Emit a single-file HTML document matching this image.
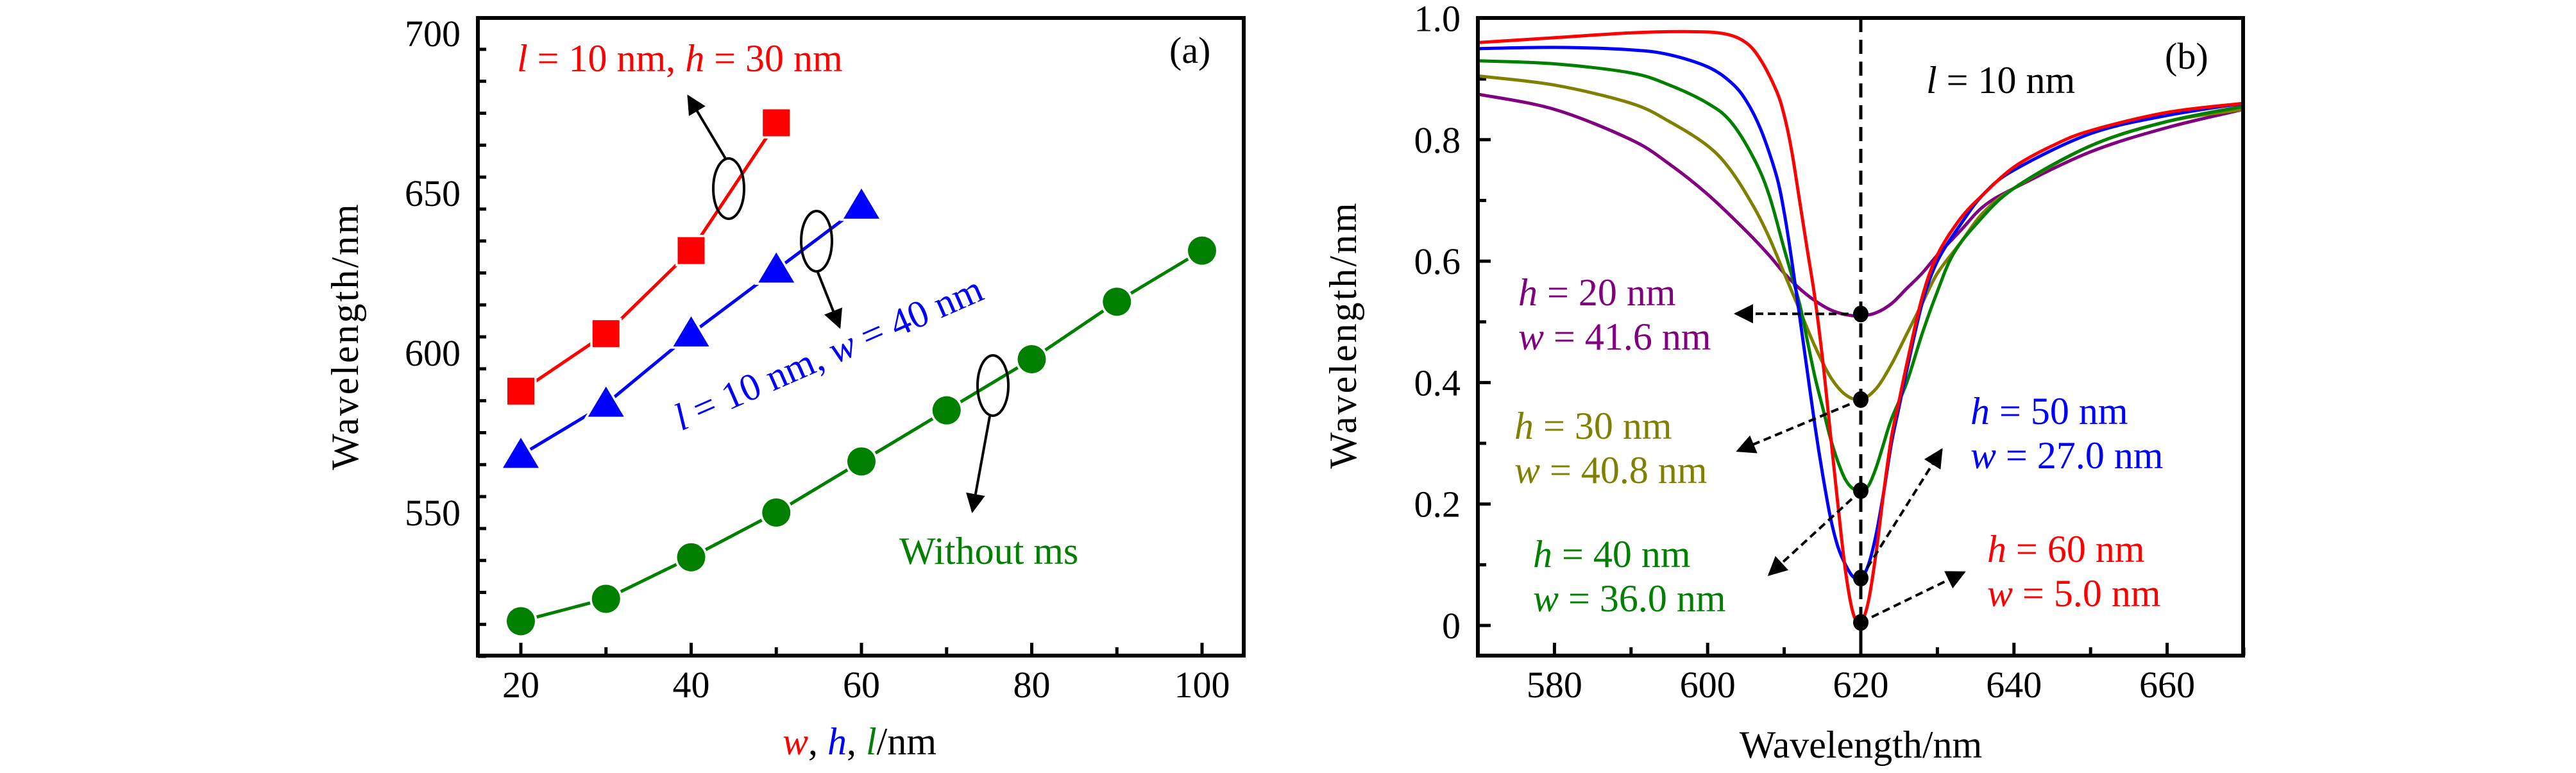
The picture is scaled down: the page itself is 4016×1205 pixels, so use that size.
<!DOCTYPE html>
<html><head><meta charset="utf-8"><style>
html,body{margin:0;padding:0;background:#fff;}
svg{display:block;}
svg text{font-family:"Liberation Serif","DejaVu Serif",serif;}
</style></head><body>
<svg id="fig" width="4016" height="1205" viewBox="0 0 4016 1205" xmlns="http://www.w3.org/2000/svg" font-family="Liberation Serif, DejaVu Serif, serif">
<g id="pa"></g>
<g id="pb"></g>
</svg>
<script>
// ---------- Panel (a) data ----------
const aRedX = [20, 30, 40, 50];
const aRedY = [588, 606, 632, 672];
const aBlueX = [20, 30, 40, 50, 60];
const aBlueY = [568, 584, 606, 626, 646];
const aGreenX = [20, 30, 40, 50, 60, 70, 80, 90, 100];
const aGreenY = [516, 523, 536, 550, 566, 582, 598, 616, 632];
const aXTicks = [20, 40, 60, 80, 100];
const aYTicks = [550, 600, 650, 700];
// ---------- Panel (b) data ----------
const bRedX = [570,580,590,597,602,605,607,609,610,611,612,613,614,615,616,617,618,619,620,621,622,623,624,625,626,628,630,633,636,640,645,650,660,670];
const bRedY = [0.96,0.968,0.976,0.978,0.975,0.96,0.93,0.88,0.84,0.78,0.70,0.62,0.54,0.44,0.32,0.20,0.09,0.02,0.005,0.04,0.12,0.22,0.31,0.37,0.43,0.54,0.61,0.67,0.71,0.755,0.79,0.815,0.845,0.86];
const bBlueX = [570,580,590,595,600,603,605,607,609,610,611,612,613,614,615,616,617,618,619,620,621,622,623,624,625,626,628,630,633,636,640,650,660,670];
const bBlueY = [0.95,0.952,0.948,0.94,0.92,0.895,0.865,0.815,0.74,0.68,0.6,0.51,0.42,0.33,0.25,0.18,0.13,0.10,0.08,0.078,0.10,0.15,0.22,0.30,0.36,0.42,0.53,0.60,0.66,0.71,0.75,0.81,0.84,0.86];
const bGreenX = [570,580,590,595,600,603,606,608,610,612,613,614,615,616,617,618,619,620,621,622,623,624,626,628,630,632,635,640,650,660,670];
const bGreenY = [0.93,0.925,0.91,0.89,0.86,0.83,0.77,0.71,0.62,0.53,0.47,0.41,0.36,0.31,0.27,0.24,0.225,0.222,0.23,0.26,0.30,0.34,0.40,0.48,0.55,0.61,0.66,0.72,0.79,0.83,0.855];
const bOliveX = [570,580,590,595,600,603,606,608,610,612,614,616,618,620,622,624,626,628,630,633,636,640,650,660,670];
const bOliveY = [0.905,0.89,0.86,0.83,0.79,0.75,0.69,0.64,0.58,0.52,0.46,0.41,0.38,0.372,0.39,0.43,0.48,0.53,0.58,0.63,0.68,0.72,0.79,0.83,0.85];
const bPurpleX = [570,580,590,595,600,605,608,610,612,614,616,618,620,622,624,626,628,630,633,636,640,650,660,670];
const bPurpleY = [0.875,0.85,0.80,0.76,0.71,0.65,0.61,0.58,0.555,0.535,0.52,0.512,0.51,0.515,0.53,0.555,0.58,0.61,0.65,0.69,0.72,0.78,0.82,0.85];
const bDotX = [620, 620, 620, 620, 620];
const bDotY = [0.513, 0.372, 0.222, 0.078, 0.005];
const bXTicks = [580, 600, 620, 640, 660];
const bYTicks = [0, 0.2, 0.4, 0.6, 0.8, 1.0];
const bYTickLabels = ["0", "0.2", "0.4", "0.6", "0.8", "1.0"];

const NS = "http://www.w3.org/2000/svg";
const FONT = "Liberation Serif, DejaVu Serif, serif";
function mk(parent, tag, attrs, text) {
  const e = document.createElementNS(NS, tag);
  for (const k in attrs) e.setAttribute(k, attrs[k]);
  if (tag === "text") e.setAttribute("font-family", FONT);
  if (text !== undefined) e.textContent = text;
  parent.appendChild(e);
  return e;
}
function smoothPath(pts) {
  let d = "M" + pts[0][0].toFixed(1) + "," + pts[0][1].toFixed(1);
  for (let i = 0; i < pts.length - 1; i++) {
    const p0 = pts[Math.max(0, i - 1)], p1 = pts[i], p2 = pts[i + 1], p3 = pts[Math.min(pts.length - 1, i + 2)];
    const c1x = p1[0] + (p2[0] - p0[0]) / 6, c1y = p1[1] + (p2[1] - p0[1]) / 6;
    const c2x = p2[0] - (p3[0] - p1[0]) / 6, c2y = p2[1] - (p3[1] - p1[1]) / 6;
    d += " C" + c1x.toFixed(1) + "," + c1y.toFixed(1) + " " + c2x.toFixed(1) + "," + c2y.toFixed(1) + " " + p2[0].toFixed(1) + "," + p2[1].toFixed(1);
  }
  return d;
}
const defs = mk(document.getElementById("fig"), "defs", {});
const mkr = mk(defs, "marker", {id: "ah", markerWidth: "34", markerHeight: "30", refX: "9", refY: "5", orient: "auto", markerUnits: "userSpaceOnUse", viewBox: "0 0 10 10"});
mk(mkr, "path", {d: "M0,0 L10,5 L0,10 z", fill: "#000"});

// ================= Panel A =================
const pa = document.getElementById("pa");
const aL = 745, aR = 1939, aT = 28, aB = 1022;
const ax = v => 812 + (v - 20) * 13.275;
const ay = v => 52 + (700 - v) * 4.98;

for (let v = 505; v <= 700; v += 10) {
  const major = v % 50 === 0;
  const t = mk(pa, "line", {x1: aL, x2: aL + (major ? 20 : 13), y1: ay(v), y2: ay(v), stroke: "#000", "stroke-width": 5});
  
  
}
for (let v = 20; v <= 100; v += 10) {
  const major = v % 20 === 0;
  const t = mk(pa, "line", {x1: ax(v), x2: ax(v), y1: aB, y2: aB - (major ? 20 : 13), stroke: "#000", "stroke-width": 5});
  
  
}
aYTicks.forEach(v => {
  const t = mk(pa, "text", {x: 718, y: ay(v) + 20, "text-anchor": "end", "font-size": 58}, String(v));
  
  
});
aXTicks.forEach(v => {
  const t = mk(pa, "text", {x: ax(v), y: 1087, "text-anchor": "middle", "font-size": 58}, String(v));
  
  
});
function aSeries(xs, ys, color, kind, name) {
  const g = mk(pa, "g", {});
  
  
  const pts = xs.map((x, i) => ax(x) + "," + ay(ys[i])).join(" ");
  mk(g, "polyline", {points: pts, fill: "none", stroke: color, "stroke-width": 5});
  xs.forEach((x, i) => {
    const cx = ax(x), cy = ay(ys[i]);
    let m;
    if (kind === "sq") m = mk(g, "rect", {x: cx - 21, y: cy - 21, width: 42, height: 42, fill: color, stroke: "#fff", "stroke-width": 7, "paint-order": "stroke"});
    else if (kind === "tri") m = mk(g, "polygon", {points: (cx) + "," + (cy - 27) + " " + (cx - 28) + "," + (cy + 20) + " " + (cx + 28) + "," + (cy + 20), fill: color, stroke: "#fff", "stroke-width": 7, "paint-order": "stroke"});
    else m = mk(g, "circle", {cx: cx, cy: cy, r: 22, fill: color, stroke: "#fff", "stroke-width": 7, "paint-order": "stroke"});
    
    
  });
}
aSeries(aGreenX, aGreenY, "#007f00", "circ", "without-ms-series");
aSeries(aBlueX, aBlueY, "#0000ff", "tri", "h-series");
aSeries(aRedX, aRedY, "#ff0000", "sq", "w-series");
const fa = mk(pa, "rect", {x: aL, y: aT, width: aR - aL, height: aB - aT, fill: "none", stroke: "#000", "stroke-width": 6});


[[1136, 294, 1131, 247, 1073, 150], [1273, 376, 1274, 422, 1309, 510], [1548, 601, 1543, 649, 1516, 797]].forEach((e, i) => {
  const el = mk(pa, "ellipse", {cx: e[0], cy: e[1], rx: 24, ry: 47, fill: "none", stroke: "#000", "stroke-width": 4});
  
  
  const ar = mk(pa, "line", {x1: e[2], y1: e[3], x2: e[4], y2: e[5], stroke: "#000", "stroke-width": 4, "marker-end": "url(#ah)"});
  
  
});
let t;
t = mk(pa, "text", {x: 806, y: 111, "font-size": 60, fill: "#ff0000"});
t.innerHTML = '<tspan font-style="italic">l</tspan> = 10 nm, <tspan font-style="italic">h</tspan> = 30 nm';


t = mk(pa, "text", {x: 1062, y: 672, "font-size": 60, fill: "#0000ff", transform: "rotate(-23.5 1062 672)"});
t.innerHTML = '<tspan font-style="italic">l</tspan> = 10 nm, <tspan font-style="italic">w</tspan> = 40 nm';


t = mk(pa, "text", {x: 1402, y: 879, "font-size": 60, fill: "#007f00"}, "Without ms");


t = mk(pa, "text", {x: 1823, y: 98, "font-size": 58}, "(a)");


t = mk(pa, "text", {x: 0, y: 0, "font-size": 60, "text-anchor": "middle", transform: "translate(558 524) rotate(-90)", "letter-spacing": "3"}, "Wavelength/nm");


t = mk(pa, "text", {x: 1340, y: 1176, "font-size": 60, "text-anchor": "middle"});
t.innerHTML = '<tspan fill="#ff0000" font-style="italic">w</tspan>, <tspan fill="#0000ff" font-style="italic">h</tspan>, <tspan fill="#007f00" font-style="italic">l</tspan>/nm';



// ================= Panel B =================
const pb = document.getElementById("pb");
const bL = 2304, bR = 3497, bT = 28, bB = 1022;
const bx = v => 2304 + (v - 570) * 11.94;
const by = v => 975 - v * 946.5;
const clip = mk(defs, "clipPath", {id: "bclip"});
mk(clip, "rect", {x: bL, y: bT, width: bR - bL, height: bB - bT});

for (let v = 0; v <= 1.0001; v += 0.1) {
  const major = Math.round(v * 10) % 2 === 0;
  const tk = mk(pb, "line", {x1: bL, x2: bL + (major ? 20 : 13), y1: by(v), y2: by(v), stroke: "#000", "stroke-width": 5});
  
  
}
for (let v = 580; v <= 670; v += 10) {
  const major = v % 20 === 0;
  const tk = mk(pb, "line", {x1: bx(v), x2: bx(v), y1: bB, y2: bB - (major ? 20 : 13), stroke: "#000", "stroke-width": 5});
  
  
}
bYTicks.forEach((v, i) => {
  const tl = mk(pb, "text", {x: 2277, y: by(v) + 20, "text-anchor": "end", "font-size": 58}, bYTickLabels[i]);
  
  
});
bXTicks.forEach(v => {
  const tl = mk(pb, "text", {x: bx(v), y: 1087, "text-anchor": "middle", "font-size": 58}, String(v));
  
  
});
const vl = mk(pb, "line", {x1: bx(620), x2: bx(620), y1: bT, y2: bB, stroke: "#000", "stroke-width": 5, "stroke-dasharray": "22 12"});


const curveG = mk(pb, "g", {"clip-path": "url(#bclip)"});
[[bPurpleX, bPurpleY, "#800080", "curve-h20"], [bOliveX, bOliveY, "#808000", "curve-h30"], [bGreenX, bGreenY, "#007f00", "curve-h40"], [bBlueX, bBlueY, "#0000ff", "curve-h50"], [bRedX, bRedY, "#ff0000", "curve-h60"]].forEach(s => {
  const pts = s[0].map((x, i) => [bx(x), by(s[1][i])]);
  const p = mk(curveG, "path", {d: smoothPath(pts), fill: "none", stroke: s[2], "stroke-width": 5});
  
  
});
const arrowHeads = [[2706, 489], [2709, 703], [2758, 896], [3027, 701], [3062, 892]];
bDotX.forEach((x, i) => {
  const a = mk(pb, "line", {x1: bx(x), y1: by(bDotY[i]), x2: arrowHeads[i][0], y2: arrowHeads[i][1], stroke: "#000", "stroke-width": 4, "stroke-dasharray": "12 7", "marker-end": "url(#ah)"});
  
  
});
bDotX.forEach((x, i) => {
  const d = mk(pb, "ellipse", {cx: bx(x), cy: by(bDotY[i]), rx: 12, ry: 13, fill: "#000"});
  
  
});
const fb = mk(pb, "rect", {x: bL, y: bT, width: bR - bL, height: bB - bT, fill: "none", stroke: "#000", "stroke-width": 6});


function lab(x, y, color, v1, v2, n1, n2, name) {
  const a = mk(pb, "text", {x: x, y: y, "font-size": 60, fill: color});
  a.innerHTML = '<tspan font-style="italic">' + v1 + '</tspan> = ' + n1 + ' nm';
  
  
  if (v2) {
    const b = mk(pb, "text", {x: x, y: y + 69, "font-size": 60, fill: color});
    b.innerHTML = '<tspan font-style="italic">' + v2 + '</tspan> = ' + n2 + ' nm';
    
    
  }
}
lab(2367, 476, "#800080", "h", "w", "20", "41.6", "label-h20");
lab(2361, 684, "#808000", "h", "w", "30", "40.8", "label-h30");
lab(2390, 884, "#007f00", "h", "w", "40", "36.0", "label-h40");
lab(3072, 661, "#0000ff", "h", "w", "50", "27.0", "label-h50");
lab(3098, 876, "#ff0000", "h", "w", "60", "5.0", "label-h60");
lab(3003, 145, "#000", "l", null, "10", "", "label-l10");
t = mk(pb, "text", {x: 3375, y: 107, "font-size": 58}, "(b)");


t = mk(pb, "text", {x: 0, y: 0, "font-size": 60, "text-anchor": "middle", transform: "translate(2114 522) rotate(-90)", "letter-spacing": "3"}, "Wavelength/nm");


t = mk(pb, "text", {x: 2901, y: 1181, "font-size": 60, "text-anchor": "middle"}, "Wavelength/nm");


</script>
</body></html>
